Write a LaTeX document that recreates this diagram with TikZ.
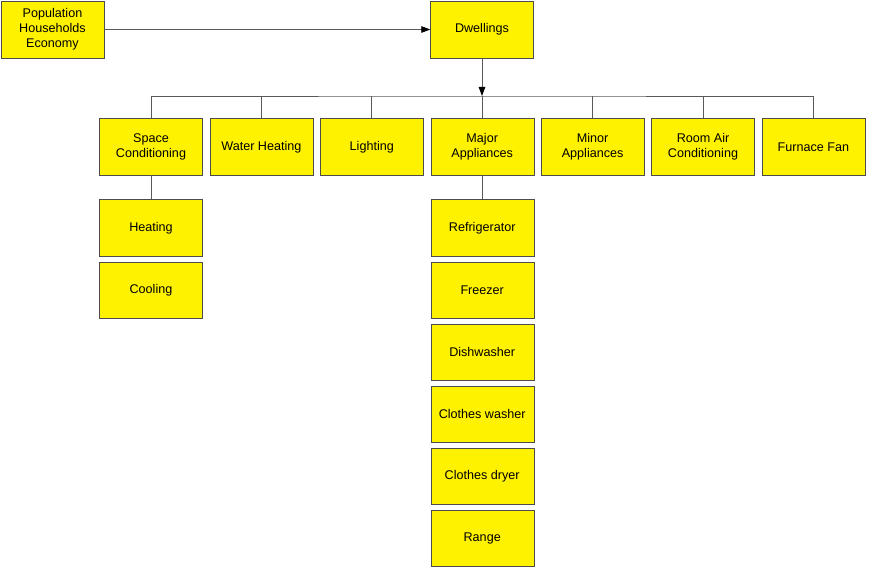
\documentclass[tikz,border=0pt]{standalone}
\usepackage{fontspec}
\setmainfont{Liberation Sans}
\usetikzlibrary{positioning,arrows.meta}

\begin{document}
\begin{tikzpicture}[x=1pt,y=-1pt,
   every node/.style={draw=black!70,fill=yellow,minimum width=103pt,minimum height=56.6pt,
                      align=center,inner sep=1pt,font=\fontsize{12.6}{15}\selectfont},
   node distance=5pt and 7pt,
   link/.style={draw=black!65,line width=0.8pt},
   arrowlink/.style={link,-{Triangle[length=9pt,width=6.5pt,color=black]}}]
\useasboundingbox (0,0) rectangle (869,569);

\node (pop) at (52.5,29.5) {Population\\Households\\Economy};
\node (dwel) at (482,29.5) {Dwellings};

% end uses
\node (space) at (151,147) {Space\\Conditioning};
\node[right=of space] (water) {Water Heating};
\node[right=of water] (light) {Lighting};
\node[right=of light] (major) {Major\\Appliances};
\node[right=of major] (minor) {Minor\\Appliances};
\node[right=of minor] (room) {Room Air\\Conditioning};
\node[right=of room] (fan) {Furnace Fan};

% space conditioning
\node[below=24pt of space] (heat) {Heating};
\node[below=of heat] (cool) {Cooling};

% major appliances
\node[below=24pt of major] (fridge) {Refrigerator};
\node[below=of fridge] (freez) {Freezer};
\node[below=of freez] (dish) {Dishwasher};
\node[below=of dish] (cwash) {Clothes washer};
\node[below=of cwash] (cdry) {Clothes dryer};
\node[below=of cdry] (range) {Range};

\coordinate (bus) at (482,96);
\draw[arrowlink] (pop) -- (dwel);
\draw[arrowlink] (dwel) -- (bus);
\draw[link] (space.north) |- (bus) -| (fan.north);
\foreach \n in {water,light,major,minor,room}
    \draw[link] (\n.north) -- (\n.north |- bus);
\draw[link] (space) -- (heat);
\draw[link] (major) -- (fridge);

\end{tikzpicture}
\end{document}
